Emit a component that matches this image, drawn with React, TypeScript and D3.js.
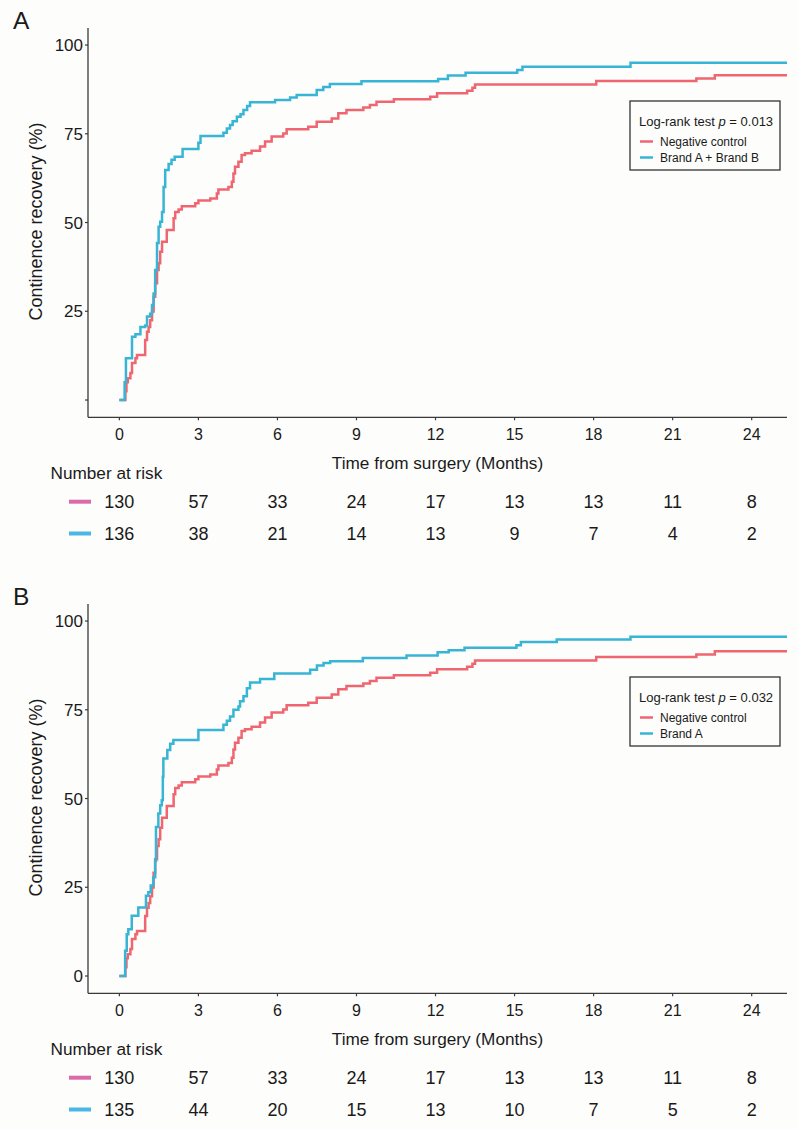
import React from "react";
import * as d3 from "d3";

// ---- Data ----
const xTicks = [0, 3, 6, 9, 12, 15, 18, 21, 24];
const yTicks = [0, 25, 50, 75, 100];
const yTickLabelsA = ["", "25", "50", "75", "100"];
const yTickLabelsB = ["0", "25", "50", "75", "100"];

// Negative control (same group in both panels)
const controlTimes = [0, 0.23, 0.27, 0.32, 0.42, 0.48, 0.61, 0.67, 0.98, 1.05, 1.11, 1.17, 1.24, 1.3, 1.36, 1.43, 1.49, 1.55, 1.62, 1.8, 2.06, 2.12, 2.25, 2.37, 2.88, 3.0, 3.45, 3.7, 3.76, 4.14, 4.27, 4.33, 4.39, 4.52, 4.64, 4.77, 5.02, 5.34, 5.53, 5.78, 6.22, 6.35, 7.17, 7.49, 8.06, 8.31, 8.62, 9.26, 9.51, 9.76, 10.42, 11.8, 12.06, 13.2, 13.4, 13.5, 18.1, 21.9, 22.6];
const controlValues = [0, 2.5, 5, 6.1, 7.6, 10.4, 11.8, 12.7, 16.9, 19.2, 20.6, 22.5, 24.9, 29.1, 32.9, 36.6, 38.5, 41.8, 44.6, 47.9, 51.2, 53, 53.7, 54.6, 55.4, 56.2, 56.8, 58.2, 59.3, 60, 61.5, 63.8, 65.7, 67.1, 69, 69.5, 70.2, 71.4, 72.8, 74.2, 75.1, 76.3, 77, 78.4, 79.3, 80.8, 81.7, 82.4, 83.1, 84, 84.7, 85.4, 86.4, 87.1, 88, 88.9, 89.9, 90.6, 91.5];

// Brand A + Brand B (panel A)
const brandABTimes = [0, 0.2, 0.25, 0.48, 0.61, 0.8, 0.98, 1.05, 1.17, 1.24, 1.3, 1.36, 1.43, 1.49, 1.55, 1.62, 1.68, 1.74, 1.87, 1.98, 2.1, 2.4, 3.0, 3.08, 3.95, 4.08, 4.2, 4.3, 4.46, 4.6, 4.71, 4.85, 4.96, 5.91, 6.48, 6.73, 7.49, 7.74, 7.99, 9.19, 12.1, 12.47, 13.14, 15.1, 15.3, 19.4];
const brandABValues = [0, 5, 11.8, 17.8, 18.5, 20.6, 21, 23.5, 24.3, 26.8, 30, 36.6, 44.2, 48.8, 50.2, 53, 60, 64.8, 66.5, 67.7, 68.5, 70.7, 72.5, 74.4, 75.3, 76.5, 77.5, 78.5, 79.8, 80.5, 81.7, 82.8, 83.9, 84.5, 85.2, 85.9, 87.3, 88.2, 89, 89.8, 90.4, 91.4, 92.2, 93, 93.9, 95];

// Brand A (panel B)
const brandATimes = [0, 0.22, 0.28, 0.34, 0.47, 0.72, 1.01, 1.1, 1.19, 1.29, 1.36, 1.39, 1.48, 1.55, 1.61, 1.65, 1.67, 1.82, 1.93, 2.05, 3.0, 3.95, 4.08, 4.2, 4.33, 4.52, 4.58, 4.71, 4.84, 4.96, 5.34, 5.88, 7.24, 7.5, 7.75, 8.0, 9.24, 10.9, 12.08, 12.5, 13.1, 15.07, 15.24, 16.6, 19.4];
const brandAValues = [0, 7.1, 11.8, 13.2, 17, 19.3, 22.6, 23.6, 25.5, 27.8, 32.5, 42, 45.8, 48.1, 49.5, 56.1, 61.3, 63.7, 65.4, 66.5, 69.3, 70.8, 71.9, 73.1, 75, 75.9, 77.4, 78.8, 81.1, 82.7, 83.7, 85.2, 86.3, 87.5, 88.2, 88.7, 89.6, 90.3, 91.2, 91.8, 92.5, 93.2, 94.1, 94.8, 95.6];

const riskControl = [130, 57, 33, 24, 17, 13, 13, 11, 8];
const riskBrandAB = [136, 38, 21, 14, 13, 9, 7, 4, 2];
const riskBrandA = [135, 44, 20, 15, 13, 10, 7, 5, 2];

const RED = "#EE6670";
const BLUE = "#38B4D4";
const RISK_PINK = "#D86DA9";
const RISK_BLUE = "#4AB6E4";
const FONT = "'Liberation Sans', Arial, Helvetica, sans-serif";

type PanelProps = {
  dy: number;
  letter: string;
  pText: string;
  blueName: string;
  blueTimes: number[];
  blueValues: number[];
  yLabels: string[];
  riskBlue: number[];
};

const xMax = 25.34;
const x = d3.scaleLinear().domain([-1.19, xMax]).range([88, 787]);

function Panel({ dy, letter, pText, blueName, blueTimes, blueValues, yLabels, riskBlue }: PanelProps) {
  const y = d3.scaleLinear().domain([-4.87, 104.8]).range([417.3 + dy, 28 + dy]);
  const line = d3
    .line<[number, number]>()
    .x((d) => x(d[0]))
    .y((d) => y(d[1]))
    .curve(d3.curveStepAfter);
  const mk = (ts: number[], vs: number[]): [number, number][] => {
    const pts: [number, number][] = ts.map((t, i) => [t, vs[i]]);
    pts.push([xMax, vs[vs.length - 1]]);
    return pts;
  };
  const redPath = line(mk(controlTimes, controlValues)) || "";
  const bluePath = line(mk(blueTimes, blueValues)) || "";
  const axisColor = "#3a3a3a";
  const x0 = 88;
  const yBottom = 417.3 + dy;
  return (
    <g fontFamily={FONT} fill="#1a1a1a">
      <text x={13} y={29 + dy} fontSize={24.5}>{letter}</text>
      {/* y axis */}
      <line x1={x0} x2={x0} y1={28 + dy} y2={yBottom} stroke={axisColor} strokeWidth={1.3} />
      {yTicks.map((v, i) => (
        <g key={"yt" + v}>
          <line x1={x0 - 3} x2={x0} y1={y(v)} y2={y(v)} stroke={axisColor} strokeWidth={1.2} />
          <text x={83} y={y(v) + 6} fontSize={17} textAnchor="end">{yLabels[i]}</text>
        </g>
      ))}
      <text
        transform={`translate(42,${221.5 + dy}) rotate(-90)`}
        fontSize={18}
        textAnchor="middle"
      >
        Continence recovery (%)
      </text>
      {/* x axis */}
      <line x1={x0} x2={787} y1={yBottom} y2={yBottom} stroke={axisColor} strokeWidth={1.3} />
      {xTicks.map((t) => (
        <g key={"xt" + t}>
          <line x1={x(t)} x2={x(t)} y1={yBottom} y2={yBottom + 3} stroke={axisColor} strokeWidth={1.2} />
          <text x={x(t)} y={440 + dy} fontSize={16} textAnchor="middle">{t}</text>
        </g>
      ))}
      <text x={437.5} y={469 + dy} fontSize={17.2} textAnchor="middle">Time from surgery (Months)</text>
      {/* curves */}
      <path d={redPath} fill="none" stroke={RED} strokeWidth={2.5} />
      <path d={bluePath} fill="none" stroke={BLUE} strokeWidth={2.5} />
      {/* legend */}
      <rect x={630} y={101 + dy} width={150} height={69} fill="none" stroke="#333" strokeWidth={1.3} />
      <text x={639} y={126 + dy} fontSize={13}>
        Log-rank test <tspan fontStyle="italic">p</tspan> = {pText}
      </text>
      <line x1={640} x2={653} y1={141.5 + dy} y2={141.5 + dy} stroke={RED} strokeWidth={2.5} />
      <text x={660} y={145.5 + dy} fontSize={12}>Negative control</text>
      <line x1={640} x2={653} y1={157.5 + dy} y2={157.5 + dy} stroke={BLUE} strokeWidth={2.5} />
      <text x={660} y={161.5 + dy} fontSize={12}>{blueName}</text>
      {/* number at risk */}
      <text x={50.5} y={479.3 + dy} fontSize={17.2}>Number at risk</text>
      <line x1={69} x2={91} y1={501.7 + dy} y2={501.7 + dy} stroke={RISK_PINK} strokeWidth={4} />
      <line x1={69} x2={91} y1={533.5 + dy} y2={533.5 + dy} stroke={RISK_BLUE} strokeWidth={4} />
      {riskControl.map((n, i) => (
        <text key={"rc" + i} x={x(xTicks[i])} y={508.3 + dy} fontSize={18} textAnchor="middle">{n}</text>
      ))}
      {riskBlue.map((n, i) => (
        <text key={"rb" + i} x={x(xTicks[i])} y={540 + dy} fontSize={18} textAnchor="middle">{n}</text>
      ))}
    </g>
  );
}

export default function App() {
  return (
    <svg
      width={798}
      height={1129}
      style={{ position: "absolute", left: 0, top: 0, background: "#fdfdfc" }}
    >
      <rect x={0} y={0} width={798} height={1129} fill="#fdfdfc" />
      <Panel
        dy={0}
        letter="A"
        pText="0.013"
        blueName="Brand A + Brand B"
        blueTimes={brandABTimes}
        blueValues={brandABValues}
        yLabels={yTickLabelsA}
        riskBlue={riskBrandAB}
      />
      <Panel
        dy={576}
        letter="B"
        pText="0.032"
        blueName="Brand A"
        blueTimes={brandATimes}
        blueValues={brandAValues}
        yLabels={yTickLabelsB}
        riskBlue={riskBrandA}
      />
    </svg>
  );
}
